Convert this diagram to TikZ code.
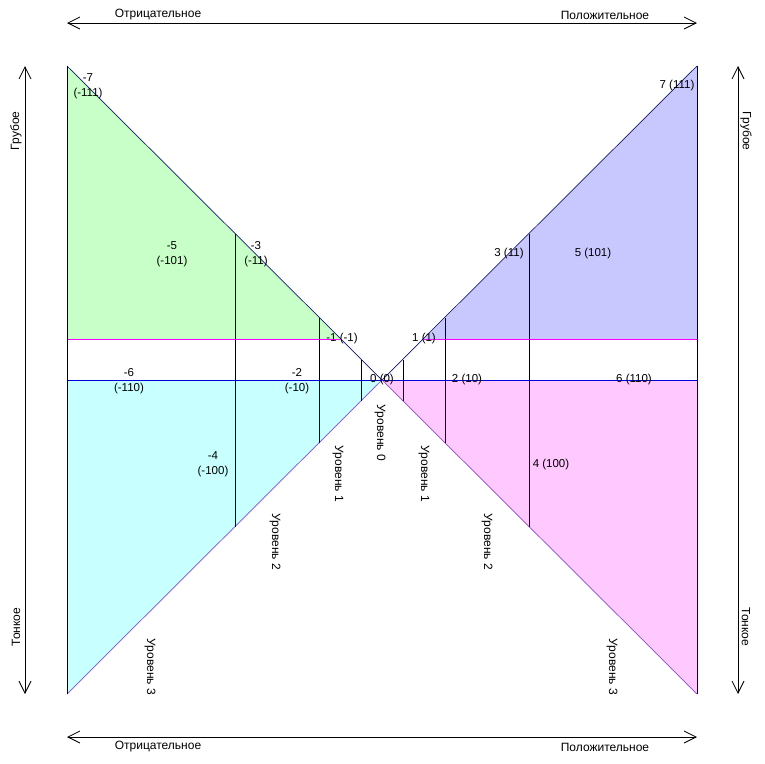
\documentclass[tikz,border=0pt]{standalone}
\usepackage{fontspec}
\setmainfont{Liberation Sans}
\usetikzlibrary{arrows.meta}
\definecolor{fgreen}{RGB}{200,255,200}
\definecolor{fblue}{RGB}{200,200,255}
\definecolor{fcyan}{RGB}{200,255,255}
\definecolor{fpink}{RGB}{255,200,255}
\definecolor{lmag}{RGB}{255,0,255}
\definecolor{lblue}{RGB}{0,0,220}
\definecolor{lnavy}{RGB}{20,20,120}
\definecolor{lpurp}{RGB}{150,70,210}
\begin{document}
\begin{tikzpicture}[x=1pt,y=-1pt,
  lbl/.style={font=\fontsize{11.5}{14.5}\selectfont, inner sep=0pt, align=center},
  axlbl/.style={font=\fontsize{12}{14}\selectfont, inner sep=0pt},
  axarrow/.style={line width=0.8pt, {Straight Barb[length=12pt,width=12pt]}-{Straight Barb[length=12pt,width=12pt]}},
  edge/.style={line width=0.8pt, black},
  sep/.style={line width=0.8pt, black}]
\useasboundingbox (0,0) rectangle (764,764);
% key points
\coordinate (TL) at (67,66);
\coordinate (TR) at (697,66);
\coordinate (BL) at (67,694);
\coordinate (BR) at (697,694);
\coordinate (C) at (382,380);
% fills
\fill[fgreen] (TL) -- (340,339) -- (67,339) -- cycle;
\fill[fblue] (TR) -- (697,339) -- (424,339) -- cycle;
\fill[fcyan] (67,380) -- (C) -- (BL) -- cycle;
\fill[fpink] (C) -- (697,380) -- (BR) -- cycle;
% horizontal lines
\draw[lmag, line width=1pt] (67,339) coordinate (mL1) -- (340,339) coordinate (mL2);
\draw[lmag, line width=1pt] (424,339) coordinate (mR1) -- (697,339) coordinate (mR2);
\draw[lblue, line width=1pt] (67,380) coordinate (bL) -- (697,380) coordinate (bR);
% diagonals
\draw[lnavy, line width=0.7pt] (TL) -- (C);
\draw[lnavy, line width=0.7pt] (TR) -- (C);
\draw[lpurp, line width=0.7pt] (BL) -- (C);
\draw[lpurp, line width=0.7pt] (BR) -- (C);
% outer edges
\draw[edge] (TL) -- (BL);
\draw[edge] (TR) -- (BR);
% level separators
\draw[sep] (235,234) coordinate (v1a) -- (235,527) coordinate (v1b);
\draw[sep] (319,318) coordinate (v2a) -- (319,443) coordinate (v2b);
\draw[sep] (361,360) coordinate (v3a) -- (361,401) coordinate (v3b);
\draw[sep] (403,360) coordinate (v4a) -- (403,401) coordinate (v4b);
\draw[sep] (445,318) coordinate (v5a) -- (445,443) coordinate (v5b);
\draw[sep] (529,234) coordinate (v6a) -- (529,527) coordinate (v6b);
% axis arrows
\coordinate (atl) at (67,23); \coordinate (atr) at (697,23);
\coordinate (abl) at (67,737); \coordinate (abr) at (697,737);
\coordinate (alt) at (25,66); \coordinate (alb) at (25,694);
\coordinate (art) at (738,66); \coordinate (arb) at (738,694);
\draw[axarrow] (atl) -- (atr);
\draw[axarrow] (abl) -- (abr);
\draw[axarrow] (alt) -- (alb);
\draw[axarrow] (art) -- (arb);
% axis labels
\node[axlbl] (nt1) at (158,15) {Отрицательное};
\node[axlbl] (nt2) at (605,15) {Положительное};
\node[axlbl] (nb1) at (158,747) {Отрицательное};
\node[axlbl] (nb2) at (605,747) {Положительное};
\node[axlbl, rotate=90] (nl1) at (16,131) {Грубое};
\node[axlbl, rotate=90] (nl2) at (16,627) {Тонкое};
\node[axlbl, rotate=-90] (nr1) at (746,131) {Грубое};
\node[axlbl, rotate=-90] (nr2) at (746,627) {Тонкое};
% region labels
\node[lbl] (m7) at (88,86) {-7\\(-111)};
\node[lbl] (p7) at (677,86) {7 (111)};
\node[lbl] (m5) at (172,254) {-5\\(-101)};
\node[lbl] (m3) at (256,254) {-3\\(-11)};
\node[lbl] (p3) at (509,254) {3 (11)};
\node[lbl] (p5) at (593,254) {5 (101)};
\node[lbl] (m1) at (342,339) {-1 (-1)};
\node[lbl] (p1) at (424,339) {1 (1)};
\node[lbl] (m6) at (129,381) {-6\\(-110)};
\node[lbl] (m2) at (297,381) {-2\\(-10)};
\node[lbl] (z0) at (382,380) {0 (0)};
\node[lbl] (p2) at (467,380) {2 (10)};
\node[lbl] (p6) at (634,380) {6 (110)};
\node[lbl] (m4) at (213,464) {-4\\(-100)};
\node[lbl] (p4) at (551,465) {4 (100)};
% level labels
\node[axlbl, rotate=-90] (u0) at (380,433) {Уровень 0};
\node[axlbl, rotate=-90] (u1l) at (338,474) {Уровень 1};
\node[axlbl, rotate=-90] (u1r) at (424,474) {Уровень 1};
\node[axlbl, rotate=-90] (u2l) at (275,542) {Уровень 2};
\node[axlbl, rotate=-90] (u2r) at (487,542) {Уровень 2};
\node[axlbl, rotate=-90] (u3l) at (150,667) {Уровень 3};
\node[axlbl, rotate=-90] (u3r) at (612,667) {Уровень 3};
\end{tikzpicture}
\end{document}
